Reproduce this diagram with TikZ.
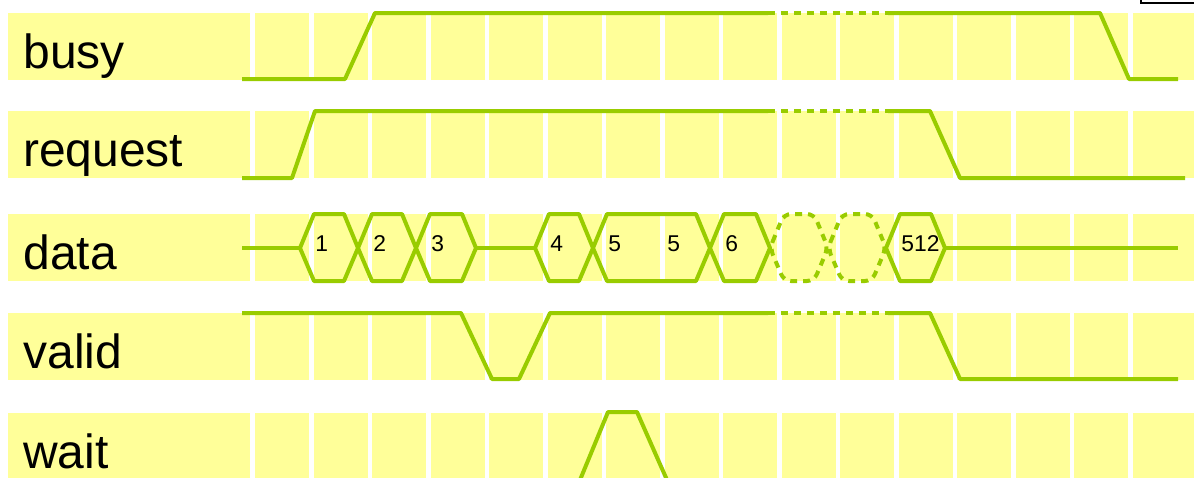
\documentclass[tikz,border=0pt]{standalone}
\usepackage{fontspec}
\setmainfont{Liberation Sans}
\definecolor{bandyellow}{HTML}{FFFF99}
\definecolor{siggreen}{HTML}{99CC00}

\begin{document}
\begin{tikzpicture}[
        x=0.02cm, y=-0.02cm,
        band/.style={fill=bandyellow},
        sig/.style={draw=siggreen, line width=0.08cm, line join=round},
        gapline/.style={sig, dash pattern=on 0.14cm off 0.12cm},
        signame/.style={anchor=base west, inner sep=0pt, font=\fontsize{27.3}{30}\selectfont},
        word/.style={anchor=base west, inner sep=0pt, font=\fontsize{13}{15}\selectfont}
    ]
    \useasboundingbox (0,0) rectangle (1194,477);

    % rows of the timing chart
    \foreach \t/\n in {13/busy, 111/request, 214/data, 313/valid, 413/wait} {
        \fill[band] (8,\t) rectangle (250,\t+67);
        \foreach \i in {0,...,14}
            \fill[band] (255+58.53*\i,\t) rectangle +(54,67);
        \fill[band] (1133,\t) rectangle (1194,\t+67);
        \node[signame] (\n) at (23,\t+55) {\n};
    }

    % busy
    \draw[sig] (242,79) -- (345,79) -- (375,13) -- (768,13);
    \draw[gapline] (768,13) -- (888,13);
    \draw[sig] (888,13) -- (1100,13) -- (1129,79) -- (1178,79);

    % request
    \draw[sig] (242,178) -- (292,178) -- (315,111) -- (768,111);
    \draw[gapline] (768,111) -- (888,111);
    \draw[sig] (888,111) -- (930,111) -- (960,178) -- (1185,178);

    % data
    \draw[sig] (242,248) -- (300,248);
    \draw[sig] (476,248) -- (535,248);
    \draw[sig] (945,248) -- (1178,248);
    \foreach \a/\b/\v in {300/358/1, 358/416/2, 416/476/3, 535/593/4, 710/770/6, 886/945/512} {
        \draw[sig] (\a,248) -- (\a+14,214) -- (\b-14,214) -- (\b,248)
            -- (\b-14,281) -- (\a+14,281) -- cycle;
        \node[word] (w\v) at (\a+15,251) {\v};
    }
    \draw[sig] (593,248) -- (607,214) -- (696,214) -- (710,248)
        -- (696,281) -- (607,281) -- cycle;
    \node[word] (w5a) at (608,251) {5};
    \node[word] (w5b) at (667,251) {5};
    \foreach \a/\b in {770/828, 828/886}
        \draw[gapline, rounded corners=0.14cm] (\a,248) -- (\a+14,214) -- (\b-14,214)
            -- (\b,248) -- (\b-14,281) -- (\a+14,281) -- cycle;

    % valid
    \draw[sig] (242,313) -- (461,313) -- (492,379) -- (519,379) -- (550,313) -- (768,313);
    \draw[gapline] (768,313) -- (888,313);
    \draw[sig] (888,313) -- (930,313) -- (960,379) -- (1178,379);

    % wait
    \draw[sig] (242,480) -- (580,480) -- (608,412) -- (637,412) -- (667,480) -- (1178,480);

    \draw[line width=0.04cm, fill=white] (1141,-20) rectangle (1210,3);
\end{tikzpicture}
\end{document}
